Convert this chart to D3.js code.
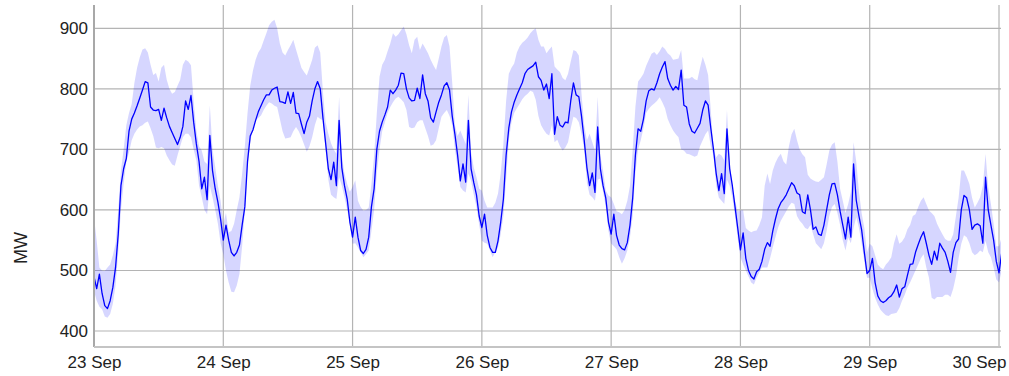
<!DOCTYPE html>
<html>
<head>
<meta charset="utf-8">
<script src="https://cdn.jsdelivr.net/npm/d3@7"></script>
<style>
  html, body { margin: 0; padding: 0; background: #fff; }
  svg { display: block; font-family: "Liberation Sans", Arial, sans-serif; }
</style>
</head>
<body>
<svg id="chart" width="1009" height="376"></svg>
<script>
// ---------------- DATA (half-hourly, MW) ----------------
const dayLabels = ["23 Sep", "24 Sep", "25 Sep", "26 Sep", "27 Sep", "28 Sep", "29 Sep", "30 Sep"];
const yTickValues = [400, 500, 600, 700, 800, 900];
const yLabel = "MW";
const startDate = "2019-09-23T00:00:00Z";
const stepMinutes = 30;

const mw23 = [490,470,494,462,442,437,450,472,505,560,640,668,685,730,750,760,772,785,798,812,810,770,765,764,766,748,768,752,738,728,718,708,720,738,780,766,789,745,709,680,635,654,617,723,665,635,613,585];
const mw24 = [550,575,550,530,524,530,542,575,605,680,722,732,748,762,772,782,790,790,798,801,803,779,778,776,795,776,794,760,759,742,726,745,755,780,800,812,800,752,710,668,650,679,640,748,670,640,618,580];
const mw25 = [555,588,555,533,528,535,555,605,635,700,730,745,757,770,798,792,798,806,826,825,800,785,780,781,801,784,823,792,780,752,745,762,778,790,805,810,798,755,725,690,648,676,646,748,668,645,625,590];
const mw26 = [571,593,558,538,530,530,549,580,618,690,735,762,778,790,800,810,825,832,835,838,844,820,814,798,808,784,825,725,754,740,737,745,744,780,810,790,787,755,715,670,640,661,629,737,668,640,620,580];
const mw27 = [560,593,558,542,536,534,546,575,620,690,734,730,750,780,797,800,798,810,825,836,845,817,806,798,804,799,831,773,770,742,730,727,735,743,765,780,773,735,700,660,632,660,627,734,668,640,605,570];
const mw28 = [534,562,520,500,490,486,498,502,515,535,546,540,565,585,602,612,618,625,635,645,640,628,625,597,594,625,600,568,572,560,558,575,600,625,643,644,625,598,575,552,588,555,676,616,590,567,530,495];
const mw29 = [500,520,480,458,450,447,450,455,458,465,476,456,470,473,492,510,511,530,543,555,564,545,525,510,532,517,545,537,530,515,497,530,546,552,600,624,620,600,568,575,577,574,545,654,600,575,550,515];
const mw30 = [496,529];

const low23 = [466,450,440,436,424,422,428,445,475,530,600,643,680,695,715,726,733,738,740,744,746,735,722,703,702,704,702,690,682,675,673,690,705,720,726,726,720,700,682,640,621,600,593,640,621,600,577,545];
const high23 = [588,549,505,500,499,505,510,525,544,600,665,700,740,760,775,810,835,852,865,867,860,840,823,826,812,835,840,815,800,792,795,805,815,840,848,845,839,780,731,705,698,680,676,773,700,671,640,615];
const low24 = [527,500,480,465,464,475,494,540,600,670,712,735,748,752,756,765,772,778,776,772,770,750,730,718,719,720,730,737,730,720,708,696,705,720,740,754,750,748,700,650,625,621,618,654,640,621,600,577];
const high24 = [577,595,563,565,577,600,621,660,705,760,805,830,848,860,867,880,892,905,911,914,900,875,860,855,864,872,881,865,850,835,828,822,835,848,868,872,860,795,745,726,710,700,693,787,690,660,643,630];
const low25 = [544,545,538,530,522,527,533,565,600,660,700,730,745,760,770,778,784,787,783,778,765,737,735,736,745,748,748,735,722,706,708,715,735,754,760,765,755,740,700,670,638,632,629,660,648,625,605,575];
const high25 = [638,649,615,605,599,600,604,643,690,760,820,840,848,862,875,892,886,890,897,903,890,872,859,881,886,864,875,867,859,848,839,831,850,870,885,889,870,810,740,722,731,720,709,790,695,670,654,635];
const low26 = [549,546,544,533,522,530,538,560,590,650,715,745,760,768,775,783,788,792,797,795,782,755,740,732,726,723,740,712,716,705,698,703,712,735,754,752,745,725,700,645,625,621,615,650,652,630,605,565];
const high26 = [632,615,604,604,604,612,627,660,710,780,825,835,842,860,870,876,880,885,892,897,900,881,870,870,859,865,870,837,832,828,818,814,825,845,864,862,855,792,740,715,726,712,698,787,690,665,632,624];
const low27 = [544,540,535,522,511,520,533,555,590,660,700,715,735,760,767,772,776,780,786,778,768,750,740,731,725,720,700,698,693,692,690,688,690,705,715,725,731,705,690,640,620,615,610,650,640,620,590,552];
const high27 = [621,610,598,596,593,600,615,640,700,770,812,818,825,838,848,858,861,856,862,870,866,859,855,848,849,850,864,817,817,817,820,816,814,835,853,840,823,765,700,687,693,690,682,765,680,640,615,598];
const low28 = [522,510,500,490,480,477,488,497,505,505,505,520,538,555,571,582,590,598,606,612,610,590,582,577,570,568,575,560,545,540,535,545,565,590,605,610,595,575,550,533,555,545,570,588,570,544,515,488];
const high28 = [599,600,570,566,563,565,566,575,588,640,660,643,665,678,687,693,680,675,705,725,734,715,700,692,687,658,652,649,647,646,650,654,675,698,708,712,680,635,615,595,610,630,712,680,630,595,570,530];
const low29 = [488,470,455,444,435,430,426,425,428,429,430,438,450,460,472,480,490,500,510,520,527,505,488,455,452,456,456,456,460,460,456,470,490,520,544,558,555,545,530,525,528,533,530,549,530,522,505,485];
const high29 = [544,540,525,510,505,502,510,515,522,545,560,544,548,555,568,575,590,593,605,615,621,610,599,595,590,577,568,560,552,549,549,560,590,620,665,665,655,643,620,604,612,621,640,693,638,610,577,540];
const low30 = [480,500];
const high30 = [540,555];

// ---------------- BUILD ----------------
const demand = [].concat(mw23, mw24, mw25, mw26, mw27, mw28, mw29, mw30);
const bandLow = [].concat(low23, low24, low25, low26, low27, low28, low29, low30);
const bandHigh = [].concat(high23, high24, high25, high26, high27, high28, high29, high30);

const t0 = new Date(startDate).getTime();
const rows = demand.map((v, i) => ({
  t: new Date(t0 + i * stepMinutes * 60000),
  v: v, lo: bandLow[i], hi: bandHigh[i]
}));
const dayTicks = dayLabels.map((d, i) => new Date(t0 + i * 86400000));

const svg = d3.select("#chart");
const L = 94, R = 1001.7, T = 5, B = 347;
const tEnd = new Date(t0 + (demand.length - 1) * stepMinutes * 60000);

const x = d3.scaleUtc().domain([new Date(t0), tEnd]).range([L, R]);
const y = d3.scaleLinear().domain([373.6, 938.5]).range([B, T]);

svg.append("defs").append("clipPath").attr("id", "clip")
  .append("rect").attr("x", L).attr("y", T).attr("width", 1001 - L).attr("height", B - T);

// grid
const grid = svg.append("g");
grid.selectAll("line.h").data(yTickValues).join("line")
  .attr("x1", L).attr("x2", 1001)
  .attr("y1", d => y(d)).attr("y2", d => y(d))
  .attr("stroke", "#b4b4b4").attr("stroke-width", 1.2);
grid.selectAll("line.v").data(dayTicks).join("line")
  .attr("x1", d => x(d)).attr("x2", d => x(d))
  .attr("y1", T).attr("y2", B)
  .attr("stroke", "#b4b4b4").attr("stroke-width", 1.2);

// band + line
const plot = svg.append("g").attr("clip-path", "url(#clip)");
plot.append("path").datum(rows)
  .attr("fill", "rgba(0,0,255,0.16)")
  .attr("d", d3.area().x(d => x(d.t)).y0(d => y(d.lo)).y1(d => y(d.hi)));
plot.append("path").datum(rows)
  .attr("fill", "none").attr("stroke", "#0000ff").attr("stroke-width", 1.3)
  .attr("stroke-linejoin", "round")
  .attr("d", d3.line().x(d => x(d.t)).y(d => y(d.v)));

// axes
const yAxis = d3.axisLeft(y).tickValues(yTickValues).tickSize(0).tickPadding(6);
const gy = svg.append("g").attr("transform", `translate(${L},0)`).call(yAxis);
gy.select(".domain").attr("d", `M0,${T}V${B}`).attr("stroke", "#a8a8a8").attr("stroke-width", 2);
gy.selectAll("text").attr("font-size", 17).attr("fill", "#222")
  .attr("font-family", "'Liberation Sans', Arial, sans-serif");

const xAxis = d3.axisBottom(x).tickValues(dayTicks).tickSize(0).tickPadding(9)
  .tickFormat((d, i) => dayLabels[i]);
const gx = svg.append("g").attr("transform", `translate(0,${B})`).call(xAxis);
gx.select(".domain").attr("d", `M${L},0H1001`).attr("stroke", "#c4c4c4").attr("stroke-width", 2);
gx.selectAll("text").attr("font-size", 17).attr("fill", "#222")
  .attr("font-family", "'Liberation Sans', Arial, sans-serif")
  .each(function (d) {
    const w = this.getComputedTextLength();
    const cx = x(d);
    if (cx + w / 2 > 1006) d3.select(this).attr("dx", 1006 - (cx + w / 2));
  });

// y label
svg.append("text")
  .attr("transform", "translate(27,248) rotate(-90)")
  .attr("text-anchor", "middle")
  .attr("font-size", 18).attr("fill", "#222")
  .text(yLabel);
</script>
</body>
</html>
